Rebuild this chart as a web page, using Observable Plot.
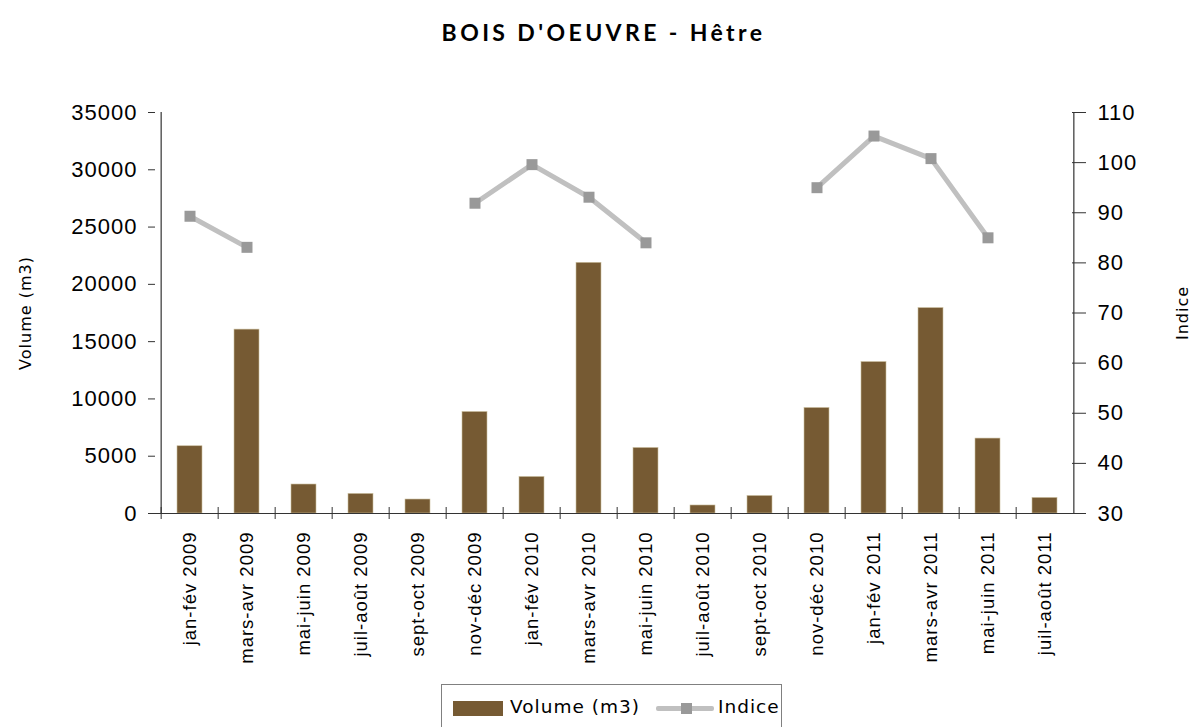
<!DOCTYPE html>
<html>
<head>
<meta charset="utf-8">
<script src="https://cdn.jsdelivr.net/npm/d3@7"></script>
<script src="https://cdn.jsdelivr.net/npm/@observablehq/plot@0.6"></script>
<style>
  html, body { margin: 0; padding: 0; background: #fff; }
  #wrap { width: 1191px; }
  #title { height: 70px; line-height: 64px; text-align: center; padding-left: 16px; box-sizing: border-box; font-family: Lato, sans-serif; font-weight: 700; font-size: 23px; letter-spacing: 3.4px; color: #000; }
  #chart svg { display: block; }
  #chart svg text { letter-spacing: 1px; }
  #legend { position: relative; margin-left: 441px; margin-top: 2px; width: 341px; height: 50px; border: 1px solid #808080; box-sizing: border-box; font-family: "DejaVu Sans", sans-serif; font-size: 18.5px; letter-spacing: 1px; color: #000; }
  #legend .sw { position: absolute; left: 11px; top: 16px; width: 50px; height: 15px; background: #765a33; }
  #legend .t1 { position: absolute; left: 68px; top: 11px; white-space: nowrap; }
  #legend .ln { position: absolute; left: 214px; top: 21px; width: 58px; height: 5px; background: #c0c0c0; border-radius: 2px; }
  #legend .mk { position: absolute; left: 239px; top: 18px; width: 11px; height: 11px; background: #999; }
  #legend .t2 { position: absolute; left: 276px; top: 11px; white-space: nowrap; }
</style>
</head>
<body>
<div id="wrap">
  <div id="title">BOIS D'OEUVRE - Hêtre</div>
  <div id="chart"></div>
  <div id="legend"><div class="sw"></div><span class="t1">Volume (m3)</span><div class="ln"></div><div class="mk"></div><span class="t2">Indice</span></div>
</div>
<script>
const periods = ["jan-fév 2009", "mars-avr 2009", "mai-juin 2009", "juil-août 2009", "sept-oct 2009", "nov-déc 2009",
  "jan-fév 2010", "mars-avr 2010", "mai-juin 2010", "juil-août 2010", "sept-oct 2010", "nov-déc 2010",
  "jan-fév 2011", "mars-avr 2011", "mai-juin 2011", "juil-août 2011"];
const volumes = [5870, 16050, 2530, 1710, 1220, 8860, 3190, 21880, 5720, 700, 1530, 9210, 13220, 17930, 6540, 1360];
const indices = [89.3, 83.1, null, null, null, 91.9, 99.6, 93.1, 84.0, null, null, 95.0, 105.3, 100.8, 85.0, null];
const volumeTicks = [0, 5000, 10000, 15000, 20000, 25000, 30000, 35000];
const indiceTicks = [30, 40, 50, 60, 70, 80, 90, 100, 110];

const volMax = 35000, idxMin = 30, idxMax = 110;
const toVol = v => (v - idxMin) * volMax / (idxMax - idxMin);
const fromVol = y => y * (idxMax - idxMin) / volMax + idxMin;

const data = periods.map((p, i) => ({period: p, volume: volumes[i], indice: indices[i]}));

const W = 1191, H = 612, mL = 155, mR = 113, mT = 42, mB = 169;
const step = (W - mL - mR) / periods.length;
const axisColor = "#333";
const tickFont = "Liberation Sans, Arial, sans-serif";

const chart = Plot.plot({
  width: W, height: H,
  marginLeft: mL, marginRight: mR, marginTop: mT, marginBottom: mB,
  style: {fontFamily: tickFont, background: "white", color: "#000"},
  x: {type: "band", domain: periods, paddingInner: 0.57, paddingOuter: 0.285, axis: null},
  y: {domain: [0, volMax], axis: null},
  marks: [
    Plot.barY(data, {x: "period", y: "volume", fill: "#765a33", stroke: "#cbbf9f", strokeWidth: 0.6}),
    Plot.line(data, {x: "period", y: d => d.indice == null ? NaN : toVol(d.indice), stroke: "#c0c0c0", strokeWidth: 5}),
    Plot.dot(data.filter(d => d.indice != null), {x: "period", y: d => toVol(d.indice), symbol: "square", r: 6.2, fill: "#999999", stroke: "none"}),
    // axes lines
    Plot.ruleY([0], {stroke: axisColor, strokeWidth: 1.2}),
    Plot.ruleX([periods[0]], {dx: -step / 2, y1: 0, y2: volMax, stroke: axisColor, strokeWidth: 1.2}),
    Plot.ruleX([periods[periods.length - 1]], {dx: step / 2, y1: 0, y2: volMax, stroke: axisColor, strokeWidth: 1.2}),
    // left axis
    Plot.axisY({anchor: "left", ticks: volumeTicks, tickSize: 7, tickPadding: 11, label: null, tickFormat: d => String(d), fontSize: 22, stroke: axisColor, fill: "#000"}),
    // right axis
    Plot.axisY({anchor: "right", ticks: indiceTicks.map(toVol), tickSize: 7, tickPadding: 12, label: null, tickFormat: d => String(Math.round(fromVol(d))), fontSize: 22, stroke: axisColor, fill: "#000"}),
    Plot.axisY({anchor: "right", ticks: indiceTicks.map(toVol), tickSize: 7, dx: -7, label: null, fill: "none", stroke: axisColor}),
    // x ticks at category boundaries (crossing the baseline)
    Plot.axisX({anchor: "bottom", ticks: periods, tickSize: 6, dx: -step / 2, label: null, fill: "none", stroke: axisColor}),
    Plot.axisX({anchor: "bottom", ticks: periods, tickSize: 6, dx: -step / 2, dy: -6, label: null, fill: "none", stroke: axisColor}),
    // x labels
    Plot.axisX({anchor: "bottom", ticks: periods, tickSize: 0, tickPadding: 18, tickRotate: -90, label: null, fontSize: 18.5, fill: "#000"}),
    // axis titles
    Plot.text(["Volume (m3)"], {frameAnchor: "left", dx: -130, rotate: -90, textAnchor: "middle", fontSize: 16, fontFamily: "DejaVu Sans, sans-serif", fill: "#000"}),
    Plot.text(["Indice"], {frameAnchor: "right", dx: 104, rotate: -90, textAnchor: "middle", fontSize: 16, fontFamily: "DejaVu Sans, sans-serif", fill: "#000"})
  ]
});
// enforce x label size directly on the rotated category texts
const periodSet = new Set(periods);
d3.select(chart).selectAll("text")
  .filter(function() { return periodSet.has(this.textContent); })
  .style("font-size", "18.5px");
document.getElementById("chart").appendChild(chart);
</script>
</body>
</html>
